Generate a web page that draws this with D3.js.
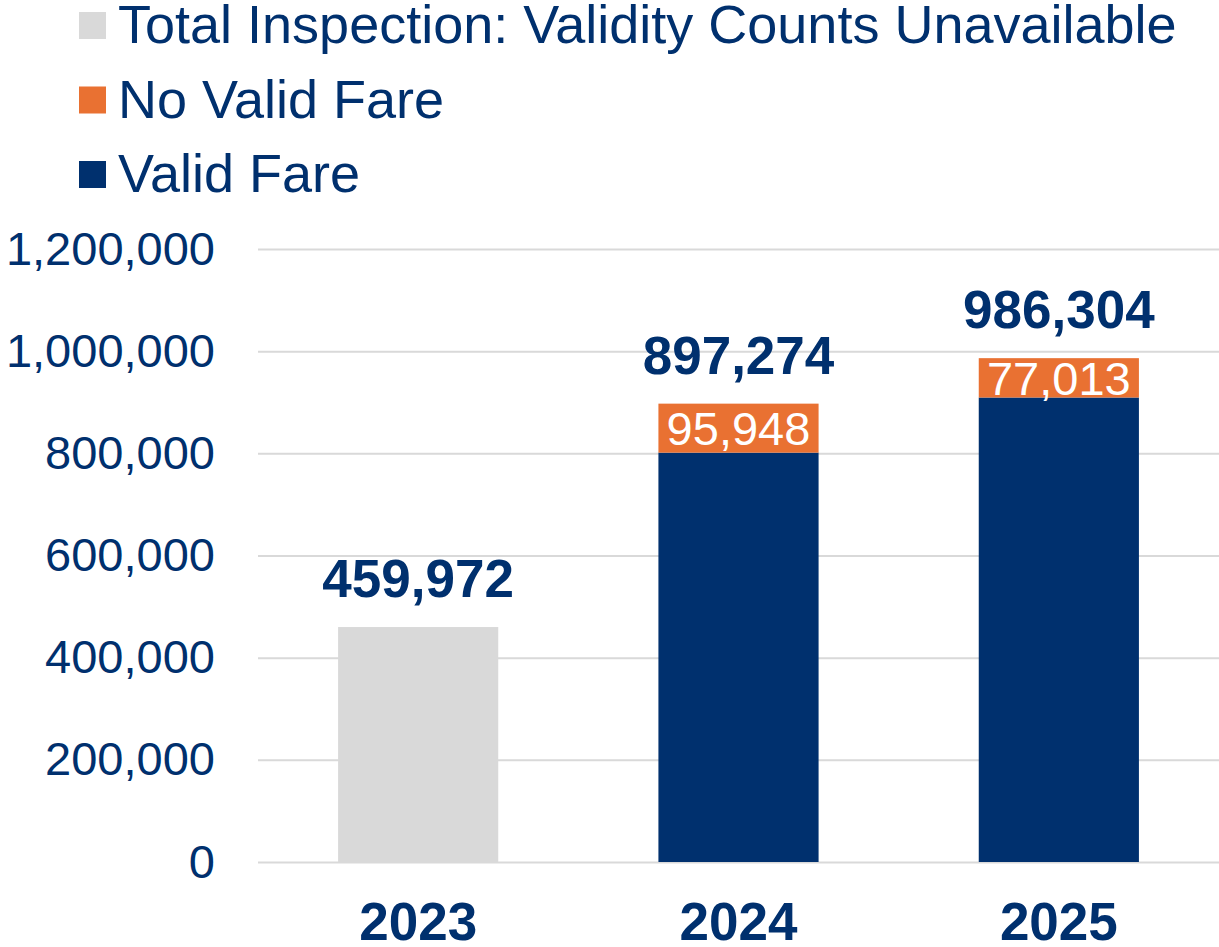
<!DOCTYPE html>
<html>
<head>
<meta charset="utf-8">
<script src="https://cdn.jsdelivr.net/npm/d3@7"></script>
<style>
  body { margin: 0; background: #fff; }
  svg { display: block; font-family: "Liberation Sans", Arial, sans-serif; }
</style>
</head>
<body>
<svg></svg>
<script>
var svg_width = 1219
var svg_height = 947

// data
var years = ["2023", "2024", "2025"]
var totalUnavailable = [459972, 0, 0]
var validFare = [0, 801326, 909291]
var noValidFare = [0, 95948, 77013]
var totals = [459972, 897274, 986304]
var yTicks = [0, 200000, 400000, 600000, 800000, 1000000, 1200000]
var legendLabels = ["Total Inspection: Validity Counts Unavailable", "No Valid Fare", "Valid Fare"]

var navy = "#00306e"
var orange = "#e97132"
var grey = "#d9d9d9"
var legendColors = [grey, orange, navy]

// plot area (window.top is reserved, so use other names)
var plotLeft = 258, plotRight = 1219, plotTop = 249, plotBottom = 862

var svg = d3.select("svg")
    .attr("width", svg_width)
    .attr("height", svg_height)

//SCALES
var xScale = d3.scaleBand()
               .domain(years)
               .range([plotLeft, plotRight])
               .paddingInner(0.5)
               .paddingOuter(0.25)

var yScale = d3.scaleLinear()
               .domain([0, 1200000])
               .range([plotBottom, plotTop])

var fmt = d3.format(",")

// gridlines + tick labels
var yAxis = d3.axisLeft(yScale)
              .tickValues(yTicks)
              .tickSize(-(plotRight - plotLeft))
              .tickFormat(fmt)
              .tickPadding(43)

var gy = svg.append("g")
    .attr("transform", "translate(" + plotLeft + ",0)")
    .call(yAxis)
gy.select(".domain").remove()
gy.selectAll(".tick line")
    .attr("stroke", "#d9d9d9")
    .attr("stroke-width", 2)
gy.selectAll(".tick text")
    .attr("fill", navy)
    .attr("font-size", 47)
    .attr("font-family", "Liberation Sans, Arial, sans-serif")

// bars
var rows = years.map(function(y, i) {
    return { year: y, grey: totalUnavailable[i], valid: validFare[i], noValid: noValidFare[i], total: totals[i] }
})

svg.selectAll("rect.grey")
    .data(rows.filter(function(d) { return d.grey > 0 }))
    .enter()
    .append("rect")
      .attr("x", function(d) { return xScale(d.year) })
      .attr("width", xScale.bandwidth())
      .attr("y", function(d) { return yScale(d.grey) })
      .attr("height", function(d) { return yScale(0) - yScale(d.grey) })
      .attr("fill", grey)

svg.selectAll("rect.valid")
    .data(rows.filter(function(d) { return d.valid > 0 }))
    .enter()
    .append("rect")
      .attr("x", function(d) { return xScale(d.year) })
      .attr("width", xScale.bandwidth())
      .attr("y", function(d) { return yScale(d.valid) })
      .attr("height", function(d) { return yScale(0) - yScale(d.valid) })
      .attr("fill", navy)

svg.selectAll("rect.novalid")
    .data(rows.filter(function(d) { return d.noValid > 0 }))
    .enter()
    .append("rect")
      .attr("x", function(d) { return xScale(d.year) })
      .attr("width", xScale.bandwidth())
      .attr("y", function(d) { return yScale(d.valid + d.noValid) })
      .attr("height", function(d) { return yScale(d.valid) - yScale(d.valid + d.noValid) })
      .attr("fill", orange)

// labels inside orange segment
svg.selectAll("text.inner")
    .data(rows.filter(function(d) { return d.noValid > 0 }))
    .enter()
    .append("text")
      .attr("x", function(d) { return xScale(d.year) + xScale.bandwidth() / 2 })
      .attr("y", function(d) { return (yScale(d.valid) + yScale(d.valid + d.noValid)) / 2 })
      .attr("dy", "0.36em")
      .attr("text-anchor", "middle")
      .attr("fill", "#fff")
      .attr("font-size", 47)
      .text(function(d) { return fmt(d.noValid) })

// totals above bars
svg.selectAll("text.total")
    .data(rows)
    .enter()
    .append("text")
      .attr("x", function(d) { return xScale(d.year) + xScale.bandwidth() / 2 })
      .attr("y", function(d) { return yScale(d.total) - 30 })
      .attr("text-anchor", "middle")
      .attr("fill", navy)
      .attr("font-size", 53)
      .attr("font-weight", "bold")
      .text(function(d) { return fmt(d.total) })

// x labels
svg.selectAll("text.year")
    .data(years)
    .enter()
    .append("text")
      .attr("x", function(d) { return xScale(d) + xScale.bandwidth() / 2 })
      .attr("y", 940)
      .attr("text-anchor", "middle")
      .attr("fill", navy)
      .attr("font-size", 53)
      .attr("font-weight", "bold")
      .text(function(d) { return d })

// legend
var legend = svg.selectAll("g.legend")
    .data(legendLabels)
    .enter()
    .append("g")
      .attr("transform", function(d, i) { return "translate(79," + (43 + i * 74.5) + ")" })

legend.append("rect")
    .attr("x", 0)
    .attr("y", -31)
    .attr("width", 27)
    .attr("height", 27)
    .attr("fill", function(d, i) { return legendColors[i] })

legend.append("text")
    .attr("x", 39)
    .attr("y", 0)
    .attr("fill", navy)
    .attr("font-size", 54)
    .text(function(d) { return d })
</script>
</body>
</html>
